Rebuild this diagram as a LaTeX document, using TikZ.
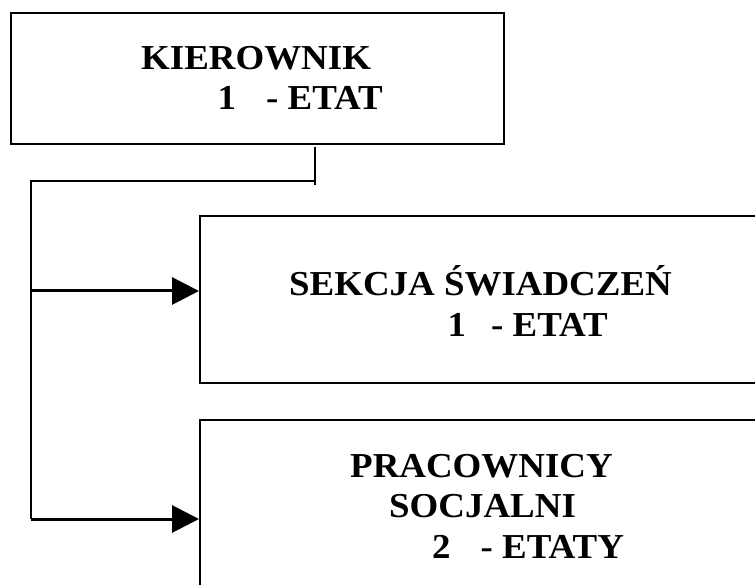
\documentclass[tikz,border=0pt]{standalone}
\usepackage{fontspec}
\setmainfont{Liberation Serif}[FakeStretch=1.055]
\usetikzlibrary{arrows.meta}
\begin{document}
\begin{tikzpicture}[x=1pt,y=-1pt,
  box/.style={draw, line width=2pt, inner sep=0pt, anchor=north west},
  lbl/.style={anchor=base west, inner sep=0pt, font=\fontsize{35}{41}\selectfont\bfseries},
  conn/.style={line width=2pt},
  arr/.style={line width=3pt, -{Triangle[length=27pt,width=27pt]}}]
\useasboundingbox (0,0) rectangle (755,585);
\clip (0,0) rectangle (755,585);
% boxes
\node[box, minimum width=493pt, minimum height=131pt] (kier) at (10,12) {};
\node[box, minimum width=620pt, minimum height=167pt] (sek) at (199,215) {};
\node[box, minimum width=620pt, minimum height=250pt] (prac) at (199,419) {};
% texts
\node[lbl] (k1) at (141,70) {KIEROWNIK};
\node[lbl] (k2) at (217.5,110) {1\hspace{30pt}- ETAT};
\node[lbl] (s1) at (289,296) {SEKCJA ŚWIADCZEŃ};
\node[lbl] (s2) at (447.5,337) {1\hspace{25pt}- ETAT};
\node[lbl] (p1) at (350,477) {PRACOWNICY};
\node[lbl] (p2) at (389,517) {SOCJALNI};
\node[lbl] (p3) at (432,558) {2\hspace{30pt}- ETATY};
% connectors
\coordinate (stubtop) at (315,147);
\coordinate (stubbot) at (315,185);
\coordinate (join) at (315,181);
\coordinate (corner) at (31,181);
\coordinate (a1) at (31,291);
\coordinate (a2) at (31,519);
\draw[conn] (stubtop) -- (stubbot);
\draw[conn] (join) -- (corner) -- (a2);
\draw[arr] (a1) -- (a1 -| sek.west);
\draw[arr] (a2) -- (a2 -| prac.west);
\end{tikzpicture}
\end{document}
